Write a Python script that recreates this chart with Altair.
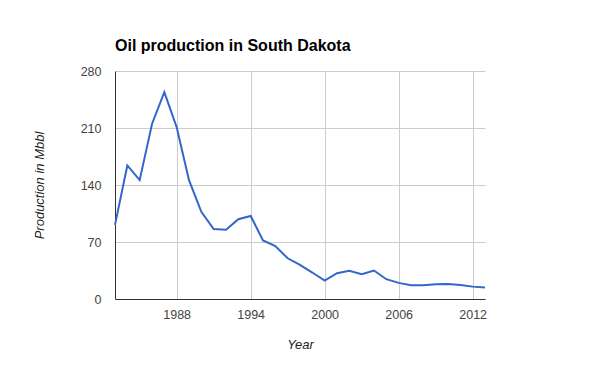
import altair as alt
import pandas as pd

years = list(range(1983, 2014))
production = [91, 164, 146, 215, 254, 211, 146, 107, 86, 85, 98, 102,
              72, 65, 50, 42, 32.5, 22.5, 31.7, 34.6, 30.5, 35, 24.3, 19.8,
              16.9, 16.9, 18.1, 18.5, 17.3, 15.2, 14]
x_ticks = [1988, 1994, 2000, 2006, 2012]
y_ticks = [0, 70, 140, 210, 280]

df = pd.DataFrame({"Year": years, "Production": production})

FONT = "Liberation Sans"

chart = alt.Chart(df).mark_line(color="#3366cc", strokeWidth=2).encode(
    x=alt.X("Year:Q",
            scale=alt.Scale(domain=[1983, 2013], nice=False, zero=False),
            axis=alt.Axis(values=x_ticks, format="d", title="Year",
                          tickSize=0, labelPadding=9, titlePadding=18,
                          labelFontSize=12.5, titleFontSize=13, titleFontStyle="italic",
                          titleFontWeight="normal", labelColor="#444444", titleColor="#222222",
                          domainColor="#333333", gridColor="#cccccc", labelFont=FONT, titleFont=FONT)),
    y=alt.Y("Production:Q",
            scale=alt.Scale(domain=[0, 280], nice=False),
            axis=alt.Axis(values=y_ticks, title="Production in Mbbl",
                          tickSize=0, labelPadding=14, titlePadding=34,
                          labelFontSize=12.5, titleFontSize=13, titleFontStyle="italic",
                          titleFontWeight="normal", labelColor="#444444", titleColor="#222222",
                          domainColor="#333333", gridColor="#cccccc", labelFont=FONT, titleFont=FONT)),
).properties(
    width=370,
    height=228,
    title=alt.TitleParams("Oil production in South Dakota", anchor="start", frame="group",
                          font=FONT, fontSize=16, fontWeight="bold", color="#000000", offset=11),
    autosize=alt.AutoSizeParams(type="none"),
    padding={"left": 115, "top": 71, "right": 115, "bottom": 72},
).configure_view(stroke=None).configure_axis(domainWidth=1)

chart.save("out.html", embed_options={"renderer": "svg", "actions": False})
